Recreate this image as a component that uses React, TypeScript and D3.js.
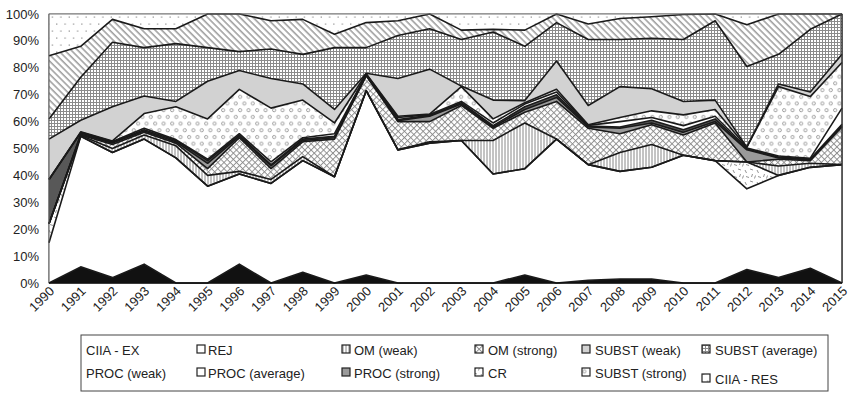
import React from "react";
import * as d3 from "d3";

// Years on the horizontal axis
const years = [
  1990, 1991, 1992, 1993, 1994, 1995, 1996, 1997, 1998, 1999, 2000, 2001, 2002,
  2003, 2004, 2005, 2006, 2007, 2008, 2009, 2010, 2011, 2012, 2013, 2014, 2015,
];

// Shares per category (percent), listed from the bottom of the stack upwards
const ciiaEx = [0, 6, 2, 7, 0, 0, 7, 0, 4, 0, 3, 0, 0, 0, 0, 3, 0, 1, 1.5, 1.5, 0, 0, 5, 2, 5.5, 0];
const rej = [15, 48.5, 46.5, 46.5, 46.5, 36, 33.5, 37, 41.5, 39.5, 68.5, 49.5, 52, 53, 40.5, 39.5, 53.5, 43, 40, 41.5, 47.5, 45.5, 30, 38, 37.5, 44];
const cr = [7, 0, 0, 0, 0, 0, 0, 0, 0, 0, 0, 0, 0, 0, 0, 0, 0, 0, 0, 0, 0, 0, 10, 0, 0, 0];
const omWeak = [0, 0.3, 1.5, 1.5, 4.5, 4, 1, 1.5, 1.5, 0, 0, 0, 0.5, 0, 12.5, 17, 0, 0, 7, 8.5, 0, 0, 0, 3.5, 1.5, 0];
const omStrong = [0, 0.2, 1.5, 1, 1, 2.5, 12.5, 4, 5.5, 14, 5.5, 10.5, 7.5, 13, 4.5, 4, 14, 13.5, 7, 7.3, 7.5, 14, 0, 2.5, 1, 14];
const procStrong = [0, 0.3, 0.5, 0.5, 0.5, 2, 0.5, 1, 0.5, 0.5, 0.2, 0.3, 2, 0.5, 0.5, 1, 1.5, 0.5, 2, 0.7, 1, 0.5, 4.5, 0.5, 0.3, 0.5];
const procWeak = [16.5, 0.5, 0.3, 0.5, 0.5, 1, 0.5, 0.5, 0.5, 0.5, 0.2, 0.5, 0.3, 0.5, 0.5, 1, 1, 0.3, 0.5, 1, 1, 1, 0.3, 0.3, 0.3, 0.5];
const procAverage = [0, 0.2, 0.3, 0.5, 0.3, 0.5, 0.5, 1, 0.5, 1, 0.2, 0.7, 0.3, 0.5, 1, 1, 1, 0.3, 2, 1, 1.5, 1, 0.4, 0.4, 0.3, 6];
const substStrong = [0, 0.2, 0.2, 5.5, 12.2, 15, 16.5, 20, 14, 4, 0.2, 0.5, 0.2, 5.5, 1.5, 0.5, 1, 0.2, 1.5, 2.5, 4, 2.5, 0.3, 25.8, 22.9, 17];
const substWeak = [15, 4.3, 12.7, 6.5, 2, 14, 7, 11, 6, 5, 0.2, 14, 16.7, 0.2, 7, 0.8, 10.5, 7.2, 11.5, 8.2, 5, 3.5, 0, 1, 1.7, 3];
const substAverage = [7.5, 16, 24, 18, 21.5, 12.5, 7, 11, 11, 23, 9.5, 16, 15, 17.3, 25.3, 20.2, 14.3, 24.5, 17.5, 18.8, 23, 29.5, 30, 11, 23.3, 15];
const other = [23.5, 11.5, 8.5, 7, 5.5, 12.5, 14, 10.5, 13, 5, 9.3, 5.5, 5.5, 3.5, 1, 6, 3.2, 5.8, 7.8, 8, 9.3, 2.5, 15.5, 15, 5.7, 0];
const ciiaRes = [15.5, 12, 2, 5.5, 5.5, 0, 0, 2.5, 2, 7.5, 3.2, 2.5, 0, 6, 5.7, 6, 0, 3.7, 1.7, 1, 0.2, 0, 4, 0, 0, 0];

// Y tick values (fractions of the total)
const yTicks = [0, 0.1, 0.2, 0.3, 0.4, 0.5, 0.6, 0.7, 0.8, 0.9, 1];

// Legend rows as printed
const legendRows = [
  ["CIIA - EX", "REJ", "OM (weak)", "OM (strong)", "SUBST (weak)", "SUBST (average)"],
  ["PROC (weak)", "PROC (average)", "PROC (strong)", "CR", "SUBST (strong)", "CIIA - RES"],
];

const seriesList = [
  { key: "CIIA - EX", values: ciiaEx, fill: "#111" },
  { key: "REJ", values: rej, fill: "#fff" },
  { key: "CR", values: cr, fill: "url(#pConfetti)" },
  { key: "OM (weak)", values: omWeak, fill: "url(#pVert)" },
  { key: "OM (strong)", values: omStrong, fill: "url(#pDiamond)" },
  { key: "PROC (strong)", values: procStrong, fill: "#9a9a9a" },
  { key: "PROC (weak)", values: procWeak, fill: "#585858" },
  { key: "PROC (average)", values: procAverage, fill: "#fff" },
  { key: "SUBST (strong)", values: substStrong, fill: "url(#pCircles)" },
  { key: "SUBST (weak)", values: substWeak, fill: "#d2d2d2" },
  { key: "SUBST (average)", values: substAverage, fill: "url(#pGrid)" },
  { key: "Other", values: other, fill: "url(#pDiag)" },
  { key: "CIIA - RES", values: ciiaRes, fill: "url(#pDots)" },
];

const W = 850;
const H = 393;
const left = 49;
const right = 842;
const top = 14;
const bottom = 283;
const FONT = "'Liberation Sans', Arial, Helvetica, sans-serif";

export default function App() {
  const keys = seriesList.map((s) => s.key);
  const table = years.map((year, i) => {
    const row: Record<string, number> = { year };
    seriesList.forEach((s) => (row[s.key] = s.values[i]));
    return row;
  });

  const stacked = d3
    .stack<Record<string, number>>()
    .keys(keys)
    .offset(d3.stackOffsetExpand)(table);

  const x = d3.scaleLinear().domain([years[0], years[years.length - 1]]).range([left, right]);
  const y = d3.scaleLinear().domain([0, 1]).range([bottom, top]);

  const area = d3
    .area<d3.SeriesPoint<Record<string, number>>>()
    .x((d) => x(d.data.year))
    .y0((d) => y(d[0]))
    .y1((d) => y(d[1]));
  const topLine = d3
    .line<d3.SeriesPoint<Record<string, number>>>()
    .x((d) => x(d.data.year))
    .y((d) => y(d[1]));

  const fillOf = (k: string) => seriesList.find((s) => s.key === k)!.fill;

  const colText = [86, 208, 354, 488, 595, 715];
  const colSwatch = [null, 197, 342, 475, 582, 702];
  const rowY = [350, 373];

  return (
    <svg
      width={W}
      height={H}
      style={{ position: "absolute", left: 0, top: 0, background: "#fff" }}
      fontFamily={FONT}
    >
      <defs>
        <pattern id="pGrid" width={3} height={3} patternUnits="userSpaceOnUse">
          <rect width={3} height={3} fill="#fff" />
          <rect width={3} height={1} fill="#8a8a8a" />
          <rect width={1} height={3} fill="#8a8a8a" />
        </pattern>
        <pattern id="pDiag" width={4.6} height={10} patternUnits="userSpaceOnUse" patternTransform="rotate(-45)">
          <rect width={4.6} height={10} fill="#fff" />
          <line x1={1} y1={0} x2={1} y2={10} stroke="#6a6a6a" strokeWidth={1} />
        </pattern>
        <pattern id="pDiamond" width={4.4} height={4.4} patternUnits="userSpaceOnUse" patternTransform="rotate(45)">
          <rect width={4.4} height={4.4} fill="#fff" />
          <line x1={0.5} y1={0} x2={0.5} y2={4.4} stroke="#8a8a8a" strokeWidth={0.9} />
          <line x1={0} y1={0.5} x2={4.4} y2={0.5} stroke="#8a8a8a" strokeWidth={0.9} />
        </pattern>
        <pattern id="pVert" width={3} height={6} patternUnits="userSpaceOnUse">
          <rect width={3} height={6} fill="#fff" />
          <line x1={1} y1={0} x2={1} y2={6} stroke="#7a7a7a" strokeWidth={0.9} />
        </pattern>
        <pattern id="pCircles" width={8.5} height={13.4} patternUnits="userSpaceOnUse">
          <rect width={8.5} height={13.4} fill="#fff" />
          <circle cx={2.1} cy={3} r={1.6} fill="none" stroke="#8a8a8a" strokeWidth={0.8} />
          <circle cx={6.35} cy={9.7} r={1.6} fill="none" stroke="#8a8a8a" strokeWidth={0.8} />
        </pattern>
        <pattern id="pDots" width={8.4} height={14} patternUnits="userSpaceOnUse">
          <rect width={8.4} height={14} fill="#fff" />
          <rect x={1.5} y={2.5} width={1.2} height={1.2} fill="#8a8a8a" />
          <rect x={5.7} y={9.5} width={1.2} height={1.2} fill="#8a8a8a" />
        </pattern>
        <pattern id="pConfetti" width={12} height={12} patternUnits="userSpaceOnUse">
          <rect width={12} height={12} fill="#fff" />
          <g stroke="#777" strokeWidth={0.8}>
            <line x1={1} y1={2} x2={2.5} y2={5} />
            <line x1={6} y1={1} x2={9} y2={2} />
            <line x1={8.5} y1={6} x2={7.5} y2={9} />
            <line x1={2} y1={8.5} x2={5} y2={9.5} />
            <line x1={10.5} y1={10.5} x2={11.5} y2={7.5} />
          </g>
        </pattern>
      </defs>

      {/* plot frame */}
      <rect x={left} y={top} width={right - left} height={bottom - top} fill="#fff" stroke="#777" strokeWidth={1} />

      {/* stacked areas */}
      <g>
        {stacked.map((s) => (
          <path key={s.key} d={area(s) ?? ""} fill={fillOf(s.key)} />
        ))}
      </g>
      {/* boundary lines */}
      <g fill="none" stroke="#1a1a1a" strokeWidth={1.6} strokeLinejoin="round">
        {stacked.slice(0, -1).map((s) => (
          <path key={s.key} d={topLine(s) ?? ""} />
        ))}
      </g>

      {/* axes */}
      <line x1={left} y1={top} x2={right} y2={top} stroke="#777" strokeWidth={1} />
      <line x1={right} y1={top} x2={right} y2={bottom} stroke="#333" strokeWidth={1.5} />
      <line x1={left} y1={top} x2={left} y2={bottom} stroke="#555" strokeWidth={1} />
      <line x1={left} y1={bottom} x2={right} y2={bottom} stroke="#111" strokeWidth={1.6} />

      <g fontSize={13} fill="#222" textAnchor="end">
        {yTicks.map((t) => (
          <text key={t} x={39} y={y(t)} dy="0.35em">
            {`${Math.round(t * 100)}%`}
          </text>
        ))}
      </g>

      <g fontSize={13} fill="#222" textAnchor="end">
        {years.map((yr) => (
          <text key={yr} transform={`translate(${x(yr) + 6},${bottom + 9}) rotate(-45)`}>
            {yr}
          </text>
        ))}
      </g>

      {/* legend */}
      <rect x={81} y={335} width={747} height={56} fill="none" stroke="#444" strokeWidth={1} />
      <g fontSize={13} fill="#222">
        {legendRows.map((row, r) =>
          row.map((name, c) => {
            const shift = name === "CIIA - RES" ? 6 : 0;
            const cy = rowY[r] + shift;
            const sx = colSwatch[c];
            return (
              <g key={name}>
                {sx !== null && (
                  <rect x={sx} y={cy - 5} width={8} height={8} fill={fillOf(name)} stroke="#222" strokeWidth={1.2} />
                )}
                <text x={colText[c]} y={cy} dy="0.35em">
                  {name}
                </text>
              </g>
            );
          })
        )}
      </g>
    </svg>
  );
}
